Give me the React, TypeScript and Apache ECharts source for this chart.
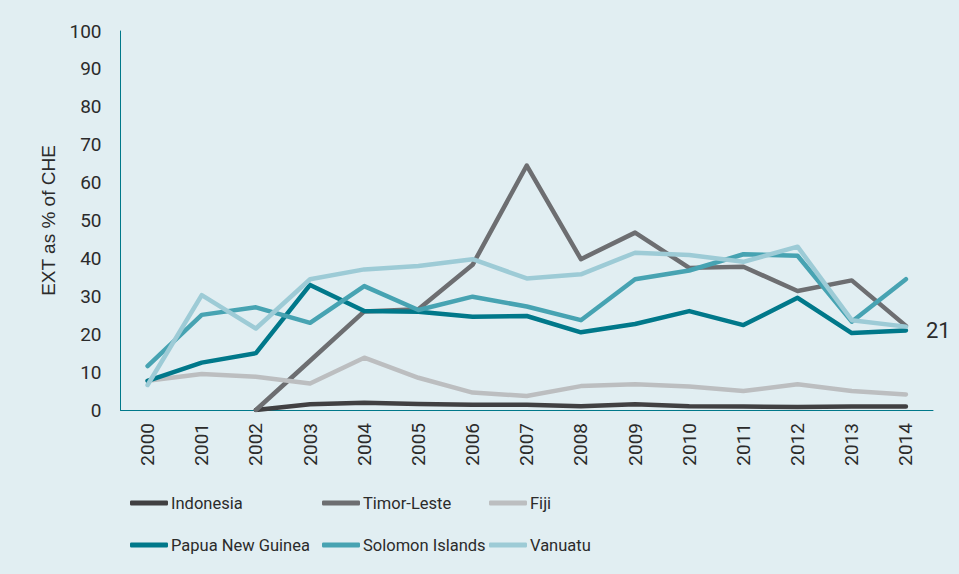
import React, { useEffect, useRef } from "react";
import * as echarts from "echarts";

const years = ["2000","2001","2002","2003","2004","2005","2006","2007","2008","2009","2010","2011","2012","2013","2014"];
const indonesia = [null, null, 0, 1.5, 1.9, 1.6, 1.4, 1.4, 1.0, 1.5, 1.0, 0.9, 0.8, 0.9, 0.9];
const timorLeste = [null, null, 0, 13, 26, 26.6, 38.3, 64.5, 39.8, 46.8, 37.5, 37.8, 31.4, 34.2, 22.2];
const fiji = [7.7, 9.5, 8.8, 7.0, 13.8, 8.5, 4.6, 3.7, 6.3, 6.8, 6.2, 5.0, 6.8, 5.0, 4.1];
const papuaNewGuinea = [7.7, 12.5, 15.0, 33.0, 26.1, 25.9, 24.6, 24.8, 20.5, 22.7, 26.1, 22.4, 29.6, 20.3, 21];
const solomonIslands = [11.6, 25.1, 27.1, 23.0, 32.7, 26.4, 29.9, 27.3, 23.7, 34.5, 36.8, 41.1, 40.7, 23.3, 34.5];
const vanuatu = [6.6, 30.3, 21.5, 34.5, 37.1, 38.0, 39.8, 34.7, 35.8, 41.5, 40.9, 39.1, 43.1, 23.7, 22.0];
const yTicks = [0, 100, 10];

const seriesNames = ["Indonesia", "Timor-Leste", "Fiji", "Papua New Guinea", "Solomon Islands", "Vanuatu"];
const seriesData = [indonesia, timorLeste, fiji, papuaNewGuinea, solomonIslands, vanuatu];
const colors = ["#414042", "#6d6e71", "#bcbec0", "#00788a", "#47a3b2", "#9dcbd6"];

const FONT = "Roboto, sans-serif";
const TXT = "#2b2b2b";

export default function App() {
  const ref = useRef<HTMLDivElement>(null);
  useEffect(() => {
    if (!ref.current) return;
    const chart = echarts.init(ref.current, undefined, { renderer: "svg" });
    const legendPos = [
      { left: 130, top: 493 },
      { left: 322, top: 493 },
      { left: 489, top: 493 },
      { left: 130, top: 535 },
      { left: 322, top: 535 },
      { left: 489, top: 535 },
    ];
    chart.setOption({
      animation: false,
      backgroundColor: "#e1eef2",
      color: colors,
      grid: { left: 120.5, right: 26, top: 31, bottom: 164, containLabel: false },
      legend: seriesNames.map((n, i) => ({
        data: [n],
        left: legendPos[i].left,
        top: legendPos[i].top,
        padding: 0,
        icon: "roundRect",
        itemWidth: 38,
        itemHeight: 5,
        itemGap: 0,
        textStyle: { fontFamily: FONT, fontSize: 16.5, color: TXT, lineHeight: 20, padding: [0, 0, 0, -2] },
        selectedMode: false,
      })),
      xAxis: {
        type: "category",
        data: years,
        boundaryGap: true,
        axisLine: { lineStyle: { color: "#00788a", width: 1 } },
        axisTick: { show: false },
        axisLabel: { rotate: 90, margin: 13, fontFamily: FONT, fontSize: 19, color: TXT },
      },
      yAxis: {
        type: "value",
        min: yTicks[0],
        max: yTicks[1],
        interval: yTicks[2],
        name: "EXT as % of CHE",
        nameLocation: "middle",
        nameGap: 63,
        nameTextStyle: { fontFamily: "'Liberation Sans', Arial, sans-serif", fontSize: 19, color: TXT },
        axisLine: { show: true, lineStyle: { color: "#00788a", width: 1 } },
        axisTick: { show: false },
        splitLine: { show: false },
        axisLabel: { margin: 19, fontFamily: FONT, fontSize: 19, color: TXT },
      },
      series: seriesNames.map((n, i) => ({
        name: n,
        type: "line",
        data: seriesData[i],
        symbol: "none",
        lineStyle: { width: 4.5, color: colors[i], cap: "round", join: "round" },
        itemStyle: { color: colors[i] },
        endLabel:
          n === "Papua New Guinea"
            ? {
                show: true,
                distance: 20,
                fontFamily: FONT,
                fontSize: 22,
                color: TXT,
                formatter: (p: any) => String(p.value),
              }
            : undefined,
      })),
    });
    return () => chart.dispose();
  }, []);
  return (
    <div
      ref={ref}
      style={{ position: "fixed", left: 0, top: 0, width: 959, height: 574 }}
    />
  );
}
